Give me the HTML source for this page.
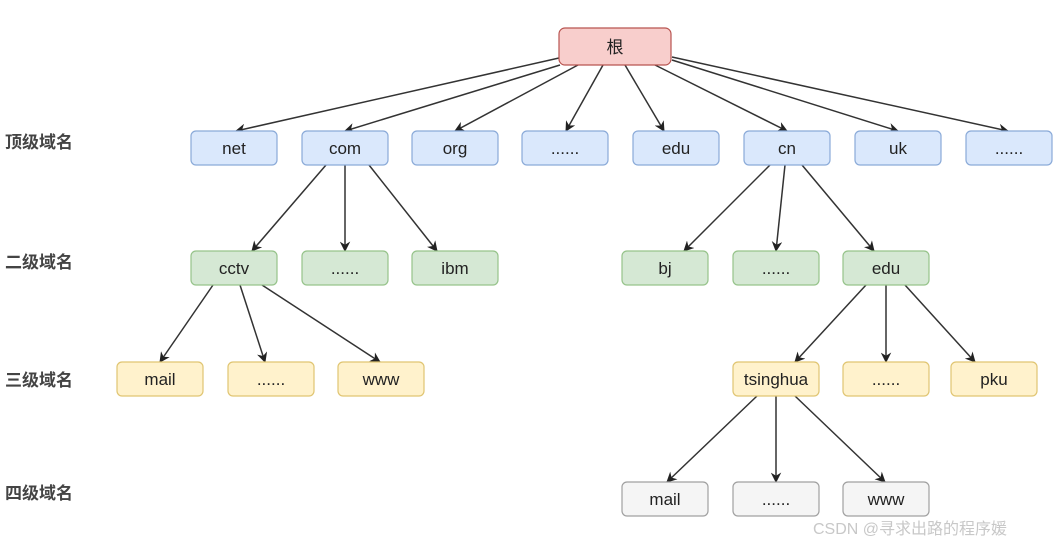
<!DOCTYPE html>
<html><head><meta charset="utf-8"><style>
html,body{margin:0;padding:0;background:#fff;width:1060px;height:546px;overflow:hidden}
text{font-family:"Liberation Sans","Noto Sans CJK SC",sans-serif}
</style></head><body>
<svg width="1060" height="546" viewBox="0 0 1060 546" xmlns="http://www.w3.org/2000/svg">
<defs><marker id="a" viewBox="0 0 10 10" refX="9" refY="5" markerWidth="7" markerHeight="7" orient="auto"><path d="M0,0 L10,5 L0,10 L3,5 z" fill="#222"/></marker></defs>
<g font-size="17" font-weight="bold" fill="#444">
<text x="5" y="148">顶级域名</text><text x="5" y="268">二级域名</text><text x="5" y="386">三级域名</text><text x="5" y="499">四级域名</text>
</g>
<g stroke="#333" stroke-width="1.5" fill="none" marker-end="url(#a)">
<line x1="559" y1="58" x2="236" y2="131"/><line x1="560" y1="65" x2="345" y2="131"/>
<line x1="578" y1="65" x2="455" y2="131"/><line x1="603" y1="65" x2="566" y2="131"/>
<line x1="625" y1="65" x2="664" y2="131"/><line x1="655" y1="65" x2="787" y2="131"/>
<line x1="672" y1="60" x2="898" y2="131"/><line x1="672" y1="57" x2="1008" y2="131"/>
<line x1="326" y1="165" x2="252" y2="251"/><line x1="345" y1="165" x2="345" y2="251"/><line x1="369" y1="165" x2="437" y2="251"/>
<line x1="213" y1="285" x2="160" y2="362"/><line x1="240" y1="285" x2="265" y2="362"/><line x1="262" y1="285" x2="380" y2="362"/>
<line x1="770" y1="165" x2="684" y2="251"/><line x1="785" y1="165" x2="776" y2="251"/><line x1="802" y1="165" x2="874" y2="251"/>
<line x1="866" y1="285" x2="795" y2="362"/><line x1="886" y1="285" x2="886" y2="362"/><line x1="905" y1="285" x2="975" y2="362"/>
<line x1="757" y1="396" x2="667" y2="482"/><line x1="776" y1="396" x2="776" y2="482"/><line x1="795" y1="396" x2="885" y2="482"/>
</g>
<g font-size="17" fill="#222" text-anchor="middle">
<rect x="559" y="28" width="112" height="37" rx="6" fill="#f8cecc" stroke="#b85450" stroke-width="1.2"/><text x="615" y="53">根</text>
<g fill="#dae8fc" stroke="#8aaad8" stroke-width="1.2">
<rect x="191" y="131" width="86" height="34" rx="5"/><rect x="302" y="131" width="86" height="34" rx="5"/><rect x="412" y="131" width="86" height="34" rx="5"/><rect x="522" y="131" width="86" height="34" rx="5"/><rect x="633" y="131" width="86" height="34" rx="5"/><rect x="744" y="131" width="86" height="34" rx="5"/><rect x="855" y="131" width="86" height="34" rx="5"/><rect x="966" y="131" width="86" height="34" rx="5"/>
</g>
<text x="234" y="154">net</text><text x="345" y="154">com</text><text x="455" y="154">org</text><text x="565" y="154">......</text><text x="676" y="154">edu</text><text x="787" y="154">cn</text><text x="898" y="154">uk</text><text x="1009" y="154">......</text>
<g fill="#d5e8d4" stroke="#96c38a" stroke-width="1.2">
<rect x="191" y="251" width="86" height="34" rx="5"/><rect x="302" y="251" width="86" height="34" rx="5"/><rect x="412" y="251" width="86" height="34" rx="5"/><rect x="622" y="251" width="86" height="34" rx="5"/><rect x="733" y="251" width="86" height="34" rx="5"/><rect x="843" y="251" width="86" height="34" rx="5"/>
</g>
<text x="234" y="274">cctv</text><text x="345" y="274">......</text><text x="455" y="274">ibm</text><text x="665" y="274">bj</text><text x="776" y="274">......</text><text x="886" y="274">edu</text>
<g fill="#fff2cc" stroke="#e0c572" stroke-width="1.2">
<rect x="117" y="362" width="86" height="34" rx="5"/><rect x="228" y="362" width="86" height="34" rx="5"/><rect x="338" y="362" width="86" height="34" rx="5"/><rect x="733" y="362" width="86" height="34" rx="5"/><rect x="843" y="362" width="86" height="34" rx="5"/><rect x="951" y="362" width="86" height="34" rx="5"/>
</g>
<text x="160" y="385">mail</text><text x="271" y="385">......</text><text x="381" y="385">www</text><text x="776" y="385">tsinghua</text><text x="886" y="385">......</text><text x="994" y="385">pku</text>
<g fill="#f5f5f5" stroke="#a0a0a0" stroke-width="1.2">
<rect x="622" y="482" width="86" height="34" rx="5"/><rect x="733" y="482" width="86" height="34" rx="5"/><rect x="843" y="482" width="86" height="34" rx="5"/>
</g>
<text x="665" y="505">mail</text><text x="776" y="505">......</text><text x="886" y="505">www</text>
</g>
<text x="813" y="534" font-size="16" fill="#c8c8c8">CSDN @寻求出路的程序媛</text>
</svg>
</body></html>
